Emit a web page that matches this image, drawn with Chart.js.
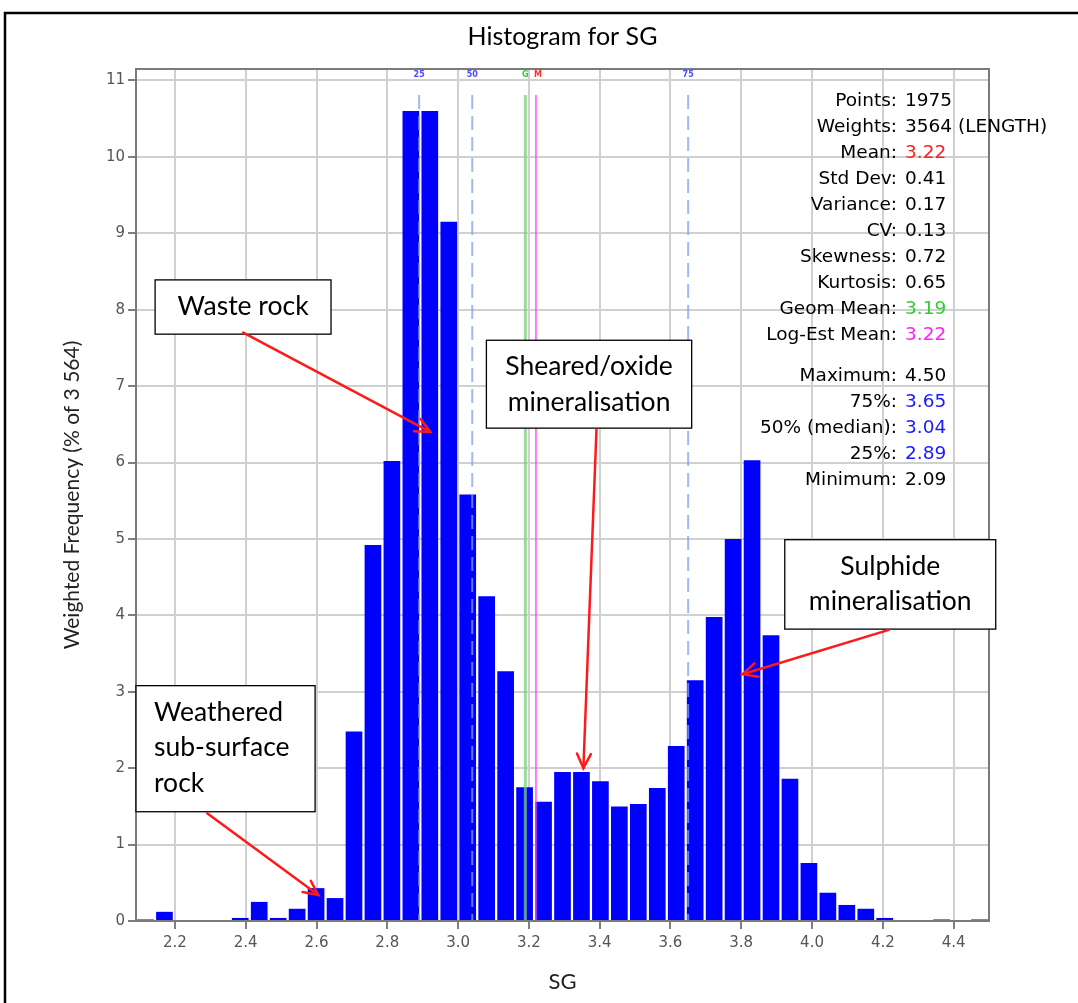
<!DOCTYPE html>
<html><head><meta charset="utf-8">
<script src="https://cdn.jsdelivr.net/npm/chart.js@4/dist/chart.umd.min.js"></script>
<style>html,body{margin:0;padding:0;background:#fff;}canvas{display:block;}</style>
</head><body>
<canvas id="c" width="1078" height="1003"></canvas>
<script>
const chartTitle = 'Histogram for SG';
const xAxisTitle = 'SG';
const yAxisTitle = 'Weighted Frequency (% of 3 564)';
const sgMin = 2.09;
const sgMax = 4.50;
const yTop = 11.15;
const weightedFreq = [0.02,0.12,0,0,0,0.04,0.25,0.04,0.16,0.43,0.30,2.48,4.92,6.02,10.60,10.60,9.15,5.58,4.25,3.27,1.75,1.56,1.95,1.95,1.83,1.50,1.53,1.74,2.29,3.15,3.98,5.00,6.03,3.74,1.86,0.76,0.37,0.21,0.16,0.04,0,0,0.02,0,0.02];
const quantileNames = ['25','50','75'];
const quantileValues = [2.89, 3.04, 3.65];
const geomMean = 3.19;
const logEstMean = 3.22;
const statLabels = ['Points:','Weights:','Mean:','Std Dev:','Variance:','CV:','Skewness:','Kurtosis:','Geom Mean:','Log-Est Mean:','Maximum:','75%:','50% (median):','25%:','Minimum:'];
const statValues = ['1975','3564 (LENGTH)','3.22','0.41','0.17','0.13','0.72','0.65','3.19','3.22','4.50','3.65','3.04','2.89','2.09'];
const statColors = ['#000','#000','#ff2020','#000','#000','#000','#000','#000','#33cc33','#ff22ff','#000','#1a1aff','#1a1aff','#1a1aff','#000'];
const noteTexts = [['Waste rock'], ['Sheared/oxide','mineralisation'], ['Sulphide','mineralisation'], ['Weathered','sub-surface','rock']];
const noteAlign = ['center','center','center','left'];
// boxes: [xLeft, yTop, xRight, yBottom] in data units
const noteBoxes = [[2.144,8.39,2.641,7.68],[3.080,7.60,3.660,6.45],[3.923,4.99,4.519,3.82],[2.09,3.08,2.596,1.43]];
// arrows: [xFrom, yFrom, xTo, yTo] in data units
const noteArrows = [[2.393,7.70,2.921,6.40],[3.391,6.43,3.354,2.00],[4.217,3.81,3.804,3.23],[2.291,1.41,2.605,0.34]];

const binW = (sgMax - sgMin) / weightedFreq.length;
const points = weightedFreq.map((v, i) => ({x: sgMin + (i + 0.5) * binW, y: v}));

function arrow(ctx, x1, y1, x2, y2) {
  ctx.beginPath(); ctx.moveTo(x1, y1); ctx.lineTo(x2, y2); ctx.stroke();
  const a = Math.atan2(y2 - y1, x2 - x1), L = 16, s = 0.45;
  ctx.beginPath();
  ctx.moveTo(x2 - L * Math.cos(a - s), y2 - L * Math.sin(a - s));
  ctx.lineTo(x2, y2);
  ctx.lineTo(x2 - L * Math.cos(a + s), y2 - L * Math.sin(a + s));
  ctx.stroke();
}

const overlay = {
  id: 'overlay',
  beforeDraw(chart) {
    const ctx = chart.ctx;
    ctx.save();
    ctx.strokeStyle = '#000'; ctx.lineWidth = 2.5;
    ctx.beginPath(); ctx.moveTo(5, 1003); ctx.lineTo(5, 13); ctx.lineTo(1078, 13); ctx.stroke();
    ctx.restore();
  },
  afterDatasetsDraw(chart) {
    const ctx = chart.ctx, xs = chart.scales.x, a = chart.chartArea;
    const top = a.top + 26;
    ctx.save();
    ctx.lineWidth = 2;
    ctx.strokeStyle = 'rgba(130,160,240,0.75)';
    ctx.setLineDash([14, 7]);
    quantileValues.forEach(v => {
      const px = xs.getPixelForValue(v);
      ctx.beginPath(); ctx.moveTo(px, top); ctx.lineTo(px, a.bottom); ctx.stroke();
    });
    ctx.setLineDash([]);
    let px = xs.getPixelForValue(geomMean);
    ctx.strokeStyle = 'rgba(120,210,120,0.75)'; ctx.lineWidth = 3;
    ctx.beginPath(); ctx.moveTo(px, top); ctx.lineTo(px, a.bottom); ctx.stroke();
    px = xs.getPixelForValue(logEstMean);
    ctx.strokeStyle = 'rgba(255,60,255,0.9)'; ctx.lineWidth = 1.5;
    ctx.beginPath(); ctx.moveTo(px, top); ctx.lineTo(px, a.bottom); ctx.stroke();
    // top labels
    ctx.font = 'bold 8px "DejaVu Sans"';
    ctx.textAlign = 'center'; ctx.textBaseline = 'middle';
    ctx.fillStyle = '#4a4aff';
    quantileNames.forEach((n, i) => ctx.fillText(n, xs.getPixelForValue(quantileValues[i]), a.top + 6));
    ctx.fillStyle = '#33cc33';
    ctx.fillText('G', xs.getPixelForValue(geomMean), a.top + 6);
    ctx.fillStyle = '#ff3030';
    ctx.fillText('M', xs.getPixelForValue(logEstMean) + 2, a.top + 6);
    ctx.restore();
  },
  afterDraw(chart) {
    const ctx = chart.ctx, xs = chart.scales.x, ys = chart.scales.y, a = chart.chartArea;
    ctx.save();
    ctx.strokeStyle = '#7a7a7a'; ctx.lineWidth = 2;
    ctx.strokeRect(a.left, a.top, a.right - a.left, a.bottom - a.top);
    // title
    ctx.fillStyle = '#000';
    ctx.font = '25px Lato';
    ctx.textAlign = 'center'; ctx.textBaseline = 'middle';
    ctx.fillText(chartTitle, (a.left + a.right) / 2, 37);
    // stats
    ctx.font = '18.5px "DejaVu Sans"';
    ctx.textBaseline = 'middle';
    statLabels.forEach((lab, i) => {
      const y = a.top + 31.7 + i * 26.1 + (i >= 10 ? 14 : 0);
      ctx.textAlign = 'right'; ctx.fillStyle = '#000';
      ctx.fillText(lab, a.right - 92, y);
      ctx.textAlign = 'left'; ctx.fillStyle = statColors[i];
      ctx.fillText(statValues[i], a.right - 84, y);
    });
    // annotations
    noteBoxes.forEach((b, i) => {
      const x1 = xs.getPixelForValue(b[0]), y1 = ys.getPixelForValue(b[1]);
      const x2 = xs.getPixelForValue(b[2]), y2 = ys.getPixelForValue(b[3]);
      ctx.fillStyle = '#fff'; ctx.fillRect(x1, y1, x2 - x1, y2 - y1);
      ctx.strokeStyle = '#000'; ctx.lineWidth = 1.3;
      ctx.strokeRect(x1, y1, x2 - x1, y2 - y1);
      ctx.fillStyle = '#000';
      ctx.font = '26.5px Lato';
      ctx.textBaseline = 'middle';
      ctx.textAlign = noteAlign[i];
      const tx = noteAlign[i] === 'center' ? (x1 + x2) / 2 : x1 + 18;
      noteTexts[i].forEach((t, k) => ctx.fillText(t, tx, y1 + 26.5 + k * 35.5));
    });
    ctx.strokeStyle = '#ff1a1a'; ctx.lineWidth = 2.5; ctx.lineCap = 'round';
    noteArrows.forEach(r => arrow(ctx, xs.getPixelForValue(r[0]), ys.getPixelForValue(r[1]), xs.getPixelForValue(r[2]), ys.getPixelForValue(r[3])));
    ctx.restore();
  }
};

new Chart(document.getElementById('c'), {
  type: 'bar',
  data: { datasets: [{ data: points, backgroundColor: '#0000ff', borderWidth: 0, barPercentage: 0.88, categoryPercentage: 1 }] },
  options: {
    responsive: false, animation: false, devicePixelRatio: 1,
    layout: { padding: { left: 50, right: 89, top: 69, bottom: 0 } },
    plugins: {
      legend: { display: false }, tooltip: { enabled: false }, title: { display: false }
    },
    scales: {
      x: {
        type: 'linear', min: sgMin, max: sgMax, offset: false,
        afterFit(s) { s.height = 82; },
        border: { display: false },
        grid: { offset: false, color: '#d0d0d0', lineWidth: 2, tickColor: '#555', tickLength: 8, tickWidth: 1.5 },
        ticks: { stepSize: 0.2, includeBounds: false, padding: 5, color: '#555', font: { family: 'DejaVu Sans', size: 15 }, callback: v => Number(v).toFixed(1), maxRotation: 0, autoSkip: false },
        title: { display: true, text: xAxisTitle, color: '#222', font: { family: 'Lato', size: 22 }, padding: { top: 0, bottom: 7.5 } }
      },
      y: {
        min: 0, max: yTop,
        afterFit(s) { s.width = 86; },
        border: { display: false },
        grid: { color: '#d0d0d0', lineWidth: 2, tickColor: '#555', tickLength: 8, tickWidth: 1.5 },
        ticks: { stepSize: 1, includeBounds: false, padding: 3, color: '#555', font: { family: 'DejaVu Sans', size: 15 }, callback: v => String(Math.round(v)) },
        title: { display: true, text: yAxisTitle, color: '#222', font: { family: 'Lato', size: 21 }, padding: { top: 9.4, bottom: 0 } }
      }
    }
  },
  plugins: [overlay]
});
</script>
</body></html>
